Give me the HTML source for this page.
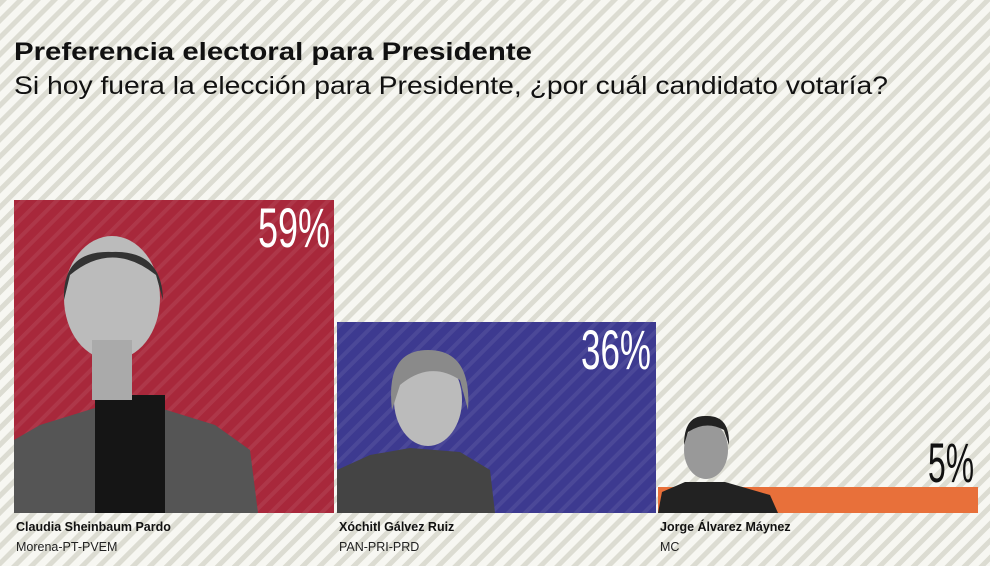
<!DOCTYPE html>
<html><head><meta charset="utf-8"><style>
html,body{margin:0;padding:0;width:990px;height:566px;overflow:hidden;background:#f7f7f2}
svg{display:block}
text{font-family:"Liberation Sans",sans-serif}
</style></head><body>
<svg width="990" height="566" viewBox="0 0 990 566" xmlns="http://www.w3.org/2000/svg">
<defs>
<pattern id="bg" width="12" height="12" patternUnits="userSpaceOnUse" patternTransform="rotate(-45)">
<rect width="12" height="12" fill="#f7f7f2"/><rect width="12" height="5" fill="#dcdcd2"/>
</pattern>
<pattern id="st" width="12" height="12" patternUnits="userSpaceOnUse" patternTransform="rotate(-45)">
<rect width="12" height="4" fill="rgba(255,255,255,0.07)"/>
</pattern>
</defs>
<rect width="990" height="566" fill="url(#bg)"/>
<text x="14" y="60" font-size="25" font-weight="bold" fill="#111" textLength="518" lengthAdjust="spacingAndGlyphs">Preferencia electoral para Presidente</text>
<text x="14" y="94" font-size="25" fill="#111" textLength="874" lengthAdjust="spacingAndGlyphs">Si hoy fuera la elección para Presidente, ¿por cuál candidato votaría?</text>

<rect x="14" y="200" width="320" height="313" fill="#a8283b"/>
<rect x="14" y="200" width="320" height="313" fill="url(#st)"/>
<rect x="337" y="322" width="319" height="191" fill="#3d3a90"/>
<rect x="337" y="322" width="319" height="191" fill="url(#st)"/>
<rect x="658" y="487" width="320" height="26" fill="#e8703a"/>

<path d="M14 440 L40 425 L95 408 L160 408 L215 425 L250 450 L258 513 L14 513 Z" fill="#555"/>
<rect x="95" y="395" width="70" height="118" fill="#151515"/>
<ellipse cx="112" cy="298" rx="48" ry="62" fill="#bbb"/>
<path d="M64 300 Q62 250 112 252 Q162 250 163 300 L156 275 Q112 240 70 275 Z" fill="#333"/>
<rect x="92" y="340" width="40" height="60" fill="#aaa"/>
<path d="M337 470 L370 455 L410 448 L460 452 L490 470 L495 513 L337 513 Z" fill="#444"/>
<ellipse cx="428" cy="400" rx="34" ry="46" fill="#bbb"/>
<path d="M392 410 Q385 350 428 350 Q472 350 468 410 L460 380 Q430 360 400 385 Z" fill="#8a8a8a"/>
<path d="M658 513 L662 492 L685 482 L725 482 L770 495 L778 513 Z" fill="#222"/>
<ellipse cx="706" cy="450" rx="22" ry="29" fill="#999"/>
<path d="M684 445 Q684 415 706 416 Q730 415 729 445 L724 430 Q706 420 688 432 Z" fill="#222"/>

<text x="330" y="247" font-size="56" fill="#fff" text-anchor="end" textLength="72" lengthAdjust="spacingAndGlyphs">59%</text>
<text x="651" y="369" font-size="56" fill="#fff" text-anchor="end" textLength="70" lengthAdjust="spacingAndGlyphs">36%</text>
<text x="974" y="482" font-size="56" fill="#111" text-anchor="end" textLength="46" lengthAdjust="spacingAndGlyphs">5%</text>

<text x="16" y="531" font-size="12.5" font-weight="bold" fill="#111">Claudia Sheinbaum Pardo</text>
<text x="16" y="551" font-size="12.5" fill="#222">Morena-PT-PVEM</text>
<text x="339" y="531" font-size="12.5" font-weight="bold" fill="#111">Xóchitl Gálvez Ruiz</text>
<text x="339" y="551" font-size="12.5" fill="#222">PAN-PRI-PRD</text>
<text x="660" y="531" font-size="12.5" font-weight="bold" fill="#111">Jorge Álvarez Máynez</text>
<text x="660" y="551" font-size="12.5" fill="#222">MC</text>
</svg>
</body></html>
